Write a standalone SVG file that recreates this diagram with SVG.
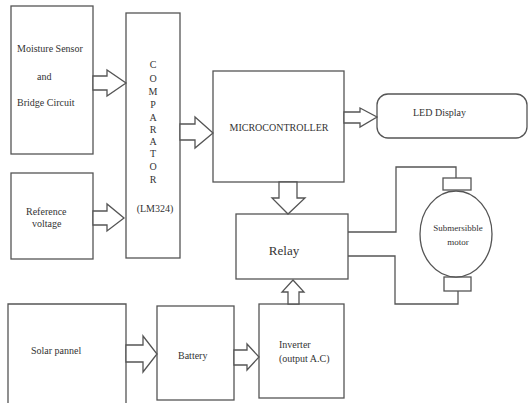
<svg xmlns="http://www.w3.org/2000/svg" width="529" height="403" viewBox="0 0 529 403">
<style>
.b{fill:#fff;stroke:#555;stroke-width:1.3}
.w{fill:none;stroke:#555;stroke-width:1.3}
.t{font-family:"Liberation Serif","Times New Roman",serif;font-size:10px;fill:#333}
.c{text-anchor:middle}
</style>
<rect width="529" height="403" fill="#fff"/>
<g id="moisture"><rect class="b" x="11" y="6" width="82" height="148"/>
<text class="t" x="17" y="52">Moisture Sensor</text>
<text class="t" x="37" y="80">and</text>
<text class="t" x="17" y="106">Bridge Circuit</text></g>
<g id="reference"><rect class="b" x="11" y="173" width="82" height="86"/>
<text class="t" x="26" y="215">Reference</text>
<text class="t" x="32" y="227">voltage</text></g>
<g id="comparator"><rect class="b" x="126" y="13" width="54" height="245"/>
<text class="t c" x="153" y="68">C</text>
<text class="t c" x="153" y="82">O</text>
<text class="t c" x="153" y="95">M</text>
<text class="t c" x="153" y="108">P</text>
<text class="t c" x="153" y="121">A</text>
<text class="t c" x="153" y="133">R</text>
<text class="t c" x="153" y="145">A</text>
<text class="t c" x="153" y="157">T</text>
<text class="t c" x="153" y="170">O</text>
<text class="t c" x="153" y="183">R</text>
<text class="t c" x="155" y="212">(LM324)</text></g>
<g id="microcontroller"><rect class="b" x="213" y="71" width="131" height="111"/>
<text class="t c" x="279" y="131">MICROCONTROLLER</text></g>
<g id="led"><rect class="b" x="377" y="94" width="150" height="44" rx="11" ry="11"/>
<text class="t" x="413" y="116">LED Display</text></g>
<g id="relay"><rect class="b" x="236" y="214" width="112" height="65"/>
<text class="t c" x="284" y="255" style="font-size:13px">Relay</text></g>
<g id="motor"><rect class="b" x="443" y="178" width="28" height="12"/>
<rect class="b" x="444" y="277" width="27" height="14"/>
<ellipse class="b" cx="456" cy="234" rx="36" ry="43"/>
<text class="t c" x="458" y="231" style="font-size:9px">Submersibble</text>
<text class="t c" x="458" y="245" style="font-size:9px">motor</text></g>
<g id="solar"><path class="w" d="M8,403V304H126V403"/>
<text class="t" x="31" y="354">Solar pannel</text></g>
<g id="battery"><rect class="b" x="157" y="306" width="77" height="94"/>
<text class="t" x="178" y="359">Battery</text></g>
<g id="inverter"><rect class="b" x="259" y="304" width="85" height="94"/>
<text class="t" x="279" y="348">Inverter</text>
<text class="t" x="279" y="362">(output A.C)</text></g>
<g id="connectors">
<polygon class="b" points="93,76 107,76 107,70 126,83 107,96 107,90 93,90"/>
<polygon class="b" points="93,211 107,211 107,204 124,218 107,231 107,225 93,225"/>
<polygon class="b" points="180,124 195,124 195,117 213,133 195,148 195,140 180,140"/>
<polygon class="b" points="344,112 360,112 360,108 377,117 360,127 360,123 344,123"/>
<polygon class="b" points="279,182 297,182 297,198 305,198 288,214 272,198 279,198"/>
<polygon class="b" points="288,304 288,292 282,292 293,280 304,292 299,292 299,304"/>
<polygon class="b" points="126,345 143,345 143,336 157,354 143,372 143,362 126,362"/>
<polygon class="b" points="234,350 247,350 247,344 259,357 247,370 247,365 234,365"/>
<path class="w" d="M348,232H396V167H456V178"/>
<path class="w" d="M348,256H395V304H458V291"/>
</g>
</svg>
